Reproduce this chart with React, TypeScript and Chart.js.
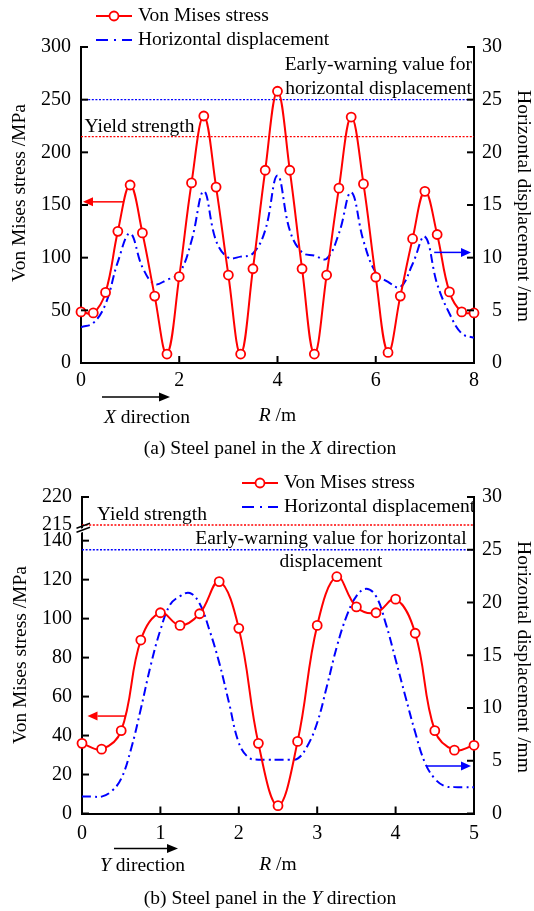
import React, { useEffect, useRef } from "react";
import { Chart, registerables } from "chart.js";

Chart.register(...registerables);

const RED = "#ff0000";
const BLUE = "#0000ff";
const SERIF = '"Liberation Serif", "Times New Roman", serif';
const TEXT_SIZE = 19.5;
const TICK_FONT = { family: SERIF, size: 20 };

// ---------- (a) steel panel in the X direction ----------
const rX = [0, 0.25, 0.5, 0.75, 1, 1.25, 1.5, 1.75, 2, 2.25, 2.5, 2.75, 3, 3.25, 3.5, 3.75, 4,
  4.25, 4.5, 4.75, 5, 5.25, 5.5, 5.75, 6, 6.25, 6.5, 6.75, 7, 7.25, 7.5, 7.75, 8];
const stressX = [48.5, 47.5, 67, 125, 169, 123.5, 63.5, 8.5, 82, 171, 234.5, 167, 83.5, 8.5, 89.5, 183, 258,
  183, 89.5, 8.5, 83.5, 166, 233.5, 170, 81.5, 10, 63.5, 118, 163, 122, 67.5, 48.5, 47.5];
const dispX = [3.4, 3.8, 5.6, 9.6, 12.3, 9.1, 7.5, 7.9, 8.5, 11.6, 16.3, 11.6, 10.0, 10.1, 10.4, 12.6, 17.8,
  12.6, 10.5, 10.2, 9.9, 12.3, 16.2, 11.6, 8.6, 7.7, 7.2, 9.4, 12.0, 7.5, 4.7, 2.8, 2.4];

// ---------- (b) steel panel in the Y direction ----------
const rY = [0, 0.25, 0.5, 0.75, 1, 1.25, 1.5, 1.75, 2, 2.25, 2.5, 2.75, 3, 3.25, 3.5, 3.75, 4, 4.25, 4.5, 4.75, 5];
const stressY = [36, 33, 42.5, 89, 103, 96.5, 102.5, 119, 95, 36, 4, 37, 96.5, 121.5, 106, 103, 110, 92.5, 42.5, 32.5, 35];
const rYd = [0, 0.125, 0.25, 0.375, 0.5, 0.625, 0.75, 0.875, 1, 1.125, 1.25, 1.375, 1.5, 1.625, 1.75, 1.875,
  2, 2.125, 2.25, 2.375, 2.5, 2.625, 2.75, 2.875, 3, 3.125, 3.25, 3.375, 3.5, 3.625, 3.75, 3.875,
  4, 4.125, 4.25, 4.375, 4.5, 4.625, 4.75, 4.875, 5];
const dispY = [1.6, 1.6, 1.6, 2.1, 3.3, 6.1, 9.9, 14.0, 17.4, 19.8, 20.6, 20.9, 19.9, 17.4, 14.3, 10.5,
  6.7, 5.3, 5.1, 5.1, 5.1, 5.1, 5.2, 6.4, 8.6, 12.1, 15.8, 18.7, 20.6, 21.3, 20.6, 18.0,
  14.6, 11.1, 7.7, 4.8, 3.3, 2.6, 2.5, 2.5, 2.5];

// limits
const YIELD_STRENGTH = 215; // MPa
const WARNING_DISP = 25; // mm

// tick values
const ticksStressA = [0, 50, 100, 150, 200, 250, 300];
const ticksDisp = [0, 5, 10, 15, 20, 25, 30];
const ticksRA = [0, 2, 4, 6, 8];
const ticksRB = [0, 1, 2, 3, 4, 5];
const ticksStressBLow = [0, 20, 40, 60, 80, 100, 120, 140];
const ticksStressBHigh = [215, 220];

// pointer arrows (R range, value)
const stressArrowA = { from: 0.87, value: 153 };
const dispArrowA = { from: 7.19, value: 10.5 };
const stressArrowB = { from: 0.55, value: 50 };
const dispArrowB = { from: 4.39, value: 4.5 };

type Run = [string, boolean];

function fontStr(size: number, italic = false) {
  return `${italic ? "italic " : ""}${size}px ${SERIF}`;
}

function drawRuns(ctx: CanvasRenderingContext2D, runs: Run[], x: number, y: number, align: "left" | "center" | "right") {
  ctx.save();
  ctx.textBaseline = "middle";
  ctx.textAlign = "left";
  ctx.fillStyle = "#000";
  const widths = runs.map(([t, it]) => {
    ctx.font = fontStr(TEXT_SIZE, it);
    return ctx.measureText(t).width;
  });
  const total = widths.reduce((a, b) => a + b, 0);
  let cx = align === "left" ? x : align === "center" ? x - total / 2 : x - total;
  runs.forEach(([t, it], i) => {
    ctx.font = fontStr(TEXT_SIZE, it);
    ctx.fillText(t, cx, y);
    cx += widths[i];
  });
  ctx.restore();
}

function rotatedRuns(ctx: CanvasRenderingContext2D, runs: Run[], cx: number, cy: number, rot: number) {
  ctx.save();
  ctx.translate(cx, cy);
  ctx.rotate(rot);
  drawRuns(ctx, runs, 0, 0, "center");
  ctx.restore();
}

function arrow(ctx: CanvasRenderingContext2D, x1: number, y1: number, x2: number, y2: number, color: string, head = 10, half = 4.5) {
  const ang = Math.atan2(y2 - y1, x2 - x1);
  const bx = x2 - head * Math.cos(ang);
  const by = y2 - head * Math.sin(ang);
  ctx.save();
  ctx.strokeStyle = color;
  ctx.fillStyle = color;
  ctx.lineWidth = 1.5;
  ctx.beginPath();
  ctx.moveTo(x1, y1);
  ctx.lineTo(bx, by);
  ctx.stroke();
  ctx.beginPath();
  ctx.moveTo(x2, y2);
  ctx.lineTo(bx - half * Math.sin(ang), by + half * Math.cos(ang));
  ctx.lineTo(bx + half * Math.sin(ang), by - half * Math.cos(ang));
  ctx.closePath();
  ctx.fill();
  ctx.restore();
}

function inwardTicks(ctx: CanvasRenderingContext2D, scales: any[]) {
  ctx.save();
  ctx.strokeStyle = "#000";
  ctx.lineWidth = 2;
  for (const s of scales) {
    for (const t of s.ticks) {
      const p = s.getPixelForValue(t.value);
      ctx.beginPath();
      if (s.isHorizontal()) {
        ctx.moveTo(p, s.top);
        ctx.lineTo(p, s.top - 7);
      } else if (s.position === "left") {
        ctx.moveTo(s.right, p);
        ctx.lineTo(s.right + 7, p);
      } else {
        ctx.moveTo(s.left, p);
        ctx.lineTo(s.left - 7, p);
      }
      ctx.stroke();
    }
  }
  ctx.restore();
}

function legend(ctx: CanvasRenderingContext2D, x0: number, y1: number, y2: number) {
  ctx.save();
  ctx.strokeStyle = RED;
  ctx.lineWidth = 2;
  ctx.beginPath();
  ctx.moveTo(x0, y1);
  ctx.lineTo(x0 + 36, y1);
  ctx.stroke();
  ctx.beginPath();
  ctx.arc(x0 + 18, y1, 4.5, 0, Math.PI * 2);
  ctx.fillStyle = "#fff";
  ctx.fill();
  ctx.lineWidth = 1.8;
  ctx.stroke();
  ctx.strokeStyle = BLUE;
  ctx.lineWidth = 2;
  ctx.setLineDash([12, 6, 2, 6]);
  ctx.beginPath();
  ctx.moveTo(x0, y2);
  ctx.lineTo(x0 + 36, y2);
  ctx.stroke();
  ctx.restore();
  drawRuns(ctx, [["Von Mises stress", false]], x0 + 42, y1, "left");
  drawRuns(ctx, [["Horizontal displacement", false]], x0 + 42, y2, "left");
}

function directionArrow(ctx: CanvasRenderingContext2D, x1: number, x2: number, y: number) {
  arrow(ctx, x1, y, x2, y, "#000", 11, 4.5);
}

const pts = (xs: number[], ys: number[]) => xs.map((x, i) => ({ x, y: ys[i] }));

function stressDataset(xs: number[], ys: number[], yAxisID: string) {
  return {
    label: "Von Mises stress",
    data: pts(xs, ys),
    yAxisID,
    clip: false,
    borderColor: RED,
    borderWidth: 2,
    tension: 0.4,
    pointRadius: 4.5,
    pointBorderWidth: 1.8,
    pointBackgroundColor: "#fff",
    pointBorderColor: RED,
  };
}

function dispDataset(xs: number[], ys: number[]) {
  return {
    label: "Horizontal displacement",
    data: pts(xs, ys),
    yAxisID: "y2",
    borderColor: BLUE,
    borderWidth: 2,
    borderDash: [9, 4, 2, 4],
    tension: 0.4,
    pointRadius: 0,
  };
}

function limitDataset(label: string, x0: number, x1: number, v: number, yAxisID: string, color: string) {
  return {
    label,
    data: [{ x: x0, y: v }, { x: x1, y: v }],
    yAxisID,
    borderColor: color,
    borderWidth: 1.3,
    borderDash: [2, 1.6],
    pointRadius: 0,
    tension: 0,
  };
}

const fixedTicks = (vals: number[]) => (s: any) => {
  s.ticks = vals.map((value) => ({ value }));
};

function xScale(max: number, vals: number[], height: number, pad: number) {
  return {
    type: "linear",
    position: "bottom",
    min: 0,
    max,
    afterBuildTicks: fixedTicks(vals),
    afterFit: (s: any) => { s.height = height; },
    grid: { display: false, drawTicks: false },
    border: { display: true, color: "#000", width: 2 },
    ticks: { font: TICK_FONT, color: "#000", padding: pad, maxRotation: 0, autoSkip: false },
  };
}

function leftScale(min: number, max: number, vals: number[], width: number, extra: any = {}) {
  return {
    type: "linear",
    position: "left",
    min,
    max,
    afterBuildTicks: fixedTicks(vals),
    afterFit: (s: any) => { s.width = width; },
    grid: { display: false, drawTicks: false },
    border: { display: true, color: "#000", width: 2 },
    ticks: { font: TICK_FONT, color: "#000", padding: 10, autoSkip: false, includeBounds: false },
    ...extra,
  };
}

function rightScale() {
  return {
    type: "linear",
    position: "right",
    min: 0,
    max: 30,
    afterBuildTicks: fixedTicks(ticksDisp),
    afterFit: (s: any) => { s.width = 28; },
    grid: { display: false, drawTicks: false },
    border: { display: true, color: "#000", width: 2 },
    ticks: { font: TICK_FONT, color: "#000", padding: 9, crossAlign: "far", autoSkip: false },
  };
}

const decorA = {
  id: "decorA",
  afterDraw(chart: any) {
    const { ctx } = chart;
    const { x, y, y2 } = chart.scales;
    inwardTicks(ctx, [x, y, y2]);
    legend(ctx, 96, 16, 40);
    rotatedRuns(ctx, [["Von Mises stress /MPa", false]], 20, 193, -Math.PI / 2);
    rotatedRuns(ctx, [["Horizontal displacement /mm", false]], 523, 206, Math.PI / 2);
    drawRuns(ctx, [["Yield strength", false]], 84.5, 126.5, "left");
    drawRuns(ctx, [["Early-warning value for", false]], 472, 65, "right");
    drawRuns(ctx, [["horizontal displacement", false]], 472, 89, "right");
    const ya = y.getPixelForValue(stressArrowA.value);
    arrow(ctx, x.getPixelForValue(stressArrowA.from), ya, x.left + 2, ya, RED);
    const yb = y2.getPixelForValue(dispArrowA.value);
    arrow(ctx, x.getPixelForValue(dispArrowA.from), yb, x.right - 3, yb, BLUE);
    directionArrow(ctx, 102, 170, 397);
    drawRuns(ctx, [["X", true], [" direction", false]], 104, 418, "left");
    drawRuns(ctx, [["R", true], [" /m", false]], (x.left + x.right) / 2, 416, "center");
    drawRuns(ctx, [["(a) Steel panel in the ", false], ["X", true], [" direction", false]], 270, 449, "center");
  },
};

const decorB = {
  id: "decorB",
  afterDraw(chart: any) {
    const { ctx } = chart;
    const { x, yLow, yHigh, y2 } = chart.scales;
    inwardTicks(ctx, [x, yLow, y2]);
    // top tick of the upper (broken) segment
    ctx.save();
    ctx.strokeStyle = "#000";
    ctx.lineWidth = 2;
    const p220 = yHigh.getPixelForValue(220);
    ctx.beginPath();
    ctx.moveTo(yHigh.right, p220);
    ctx.lineTo(yHigh.right + 7, p220);
    ctx.stroke();
    ctx.restore();
    // axis break marks
    const bx = yLow.right;
    const by = yLow.top;
    ctx.save();
    ctx.fillStyle = "#fff";
    ctx.beginPath();
    ctx.moveTo(bx - 3, by + 1.5);
    ctx.lineTo(bx + 3, by - 0.8);
    ctx.lineTo(bx + 3, by + 3.2);
    ctx.lineTo(bx - 3, by + 5.5);
    ctx.closePath();
    ctx.fill();
    ctx.strokeStyle = "#000";
    ctx.lineWidth = 1.5;
    ctx.beginPath();
    ctx.moveTo(bx - 5.5, by + 0.3);
    ctx.lineTo(bx + 8, by - 4.7);
    ctx.moveTo(bx - 5.5, by + 4.3);
    ctx.lineTo(bx + 8, by - 0.7);
    ctx.stroke();
    ctx.restore();
    legend(ctx, 242, 23, 47);
    rotatedRuns(ctx, [["Von Mises stress /MPa", false]], 21, 195, -Math.PI / 2);
    rotatedRuns(ctx, [["Horizontal displacement /mm", false]], 523, 197, Math.PI / 2);
    drawRuns(ctx, [["Yield strength", false]], 97, 54.5, "left");
    drawRuns(ctx, [["Early-warning value for horizontal", false]], 331, 79, "center");
    drawRuns(ctx, [["displacement", false]], 331, 102, "center");
    const ya = yLow.getPixelForValue(stressArrowB.value);
    arrow(ctx, x.getPixelForValue(stressArrowB.from), ya, x.left + 5.5, ya, RED);
    const yb = y2.getPixelForValue(dispArrowB.value);
    arrow(ctx, x.getPixelForValue(dispArrowB.from), yb, x.right - 3, yb, BLUE);
    directionArrow(ctx, 114, 178, 388.5);
    drawRuns(ctx, [["Y", true], [" direction", false]], 100, 405.5, "left");
    drawRuns(ctx, [["R", true], [" /m", false]], (x.left + x.right) / 2, 405, "center");
    drawRuns(ctx, [["(b) Steel panel in the ", false], ["Y", true], [" direction", false]], 270, 439, "center");
  },
};

function configA(): any {
  return {
    type: "line",
    data: {
      datasets: [
        stressDataset(rX, stressX, "y"),
        dispDataset(rX, dispX),
        limitDataset("Yield strength", 0, 8, YIELD_STRENGTH, "y", RED),
        limitDataset("Early-warning value", 0, 8, WARNING_DISP, "y2", BLUE),
      ],
    },
    options: {
      responsive: false,
      animation: false,
      devicePixelRatio: 1,
      layout: { padding: { top: 47, right: 32, left: 0, bottom: 0 } },
      plugins: { legend: { display: false }, tooltip: { enabled: false } },
      scales: {
        x: xScale(8, ticksRA, 97, 5.5),
        y: leftScale(0, 300, ticksStressA, 81),
        y2: rightScale(),
      },
    },
    plugins: [decorA],
  };
}

function configB(): any {
  return {
    type: "line",
    data: {
      datasets: [
        stressDataset(rY, stressY, "yLow"),
        dispDataset(rYd, dispY),
        limitDataset("Yield strength", 0, 5, YIELD_STRENGTH, "yHigh", RED),
        limitDataset("Early-warning value", 0, 5, WARNING_DISP, "y2", BLUE),
      ],
    },
    options: {
      responsive: false,
      animation: false,
      devicePixelRatio: 1,
      layout: { padding: { top: 37, right: 32, left: 0, bottom: 0 } },
      plugins: { legend: { display: false }, tooltip: { enabled: false } },
      scales: {
        x: xScale(5, ticksRB, 97.5, 8.5),
        yLow: leftScale(0, 146.5, ticksStressBLow, 82, { stack: "left", stackWeight: 285.5 }),
        yHigh: leftScale(214.46, 220, ticksStressBHigh, 82, { stack: "left", stackWeight: 31 }),
        y2: rightScale(),
      },
    },
    plugins: [decorB],
  };
}

export default function App() {
  const refA = useRef<HTMLCanvasElement>(null);
  const refB = useRef<HTMLCanvasElement>(null);
  useEffect(() => {
    const a = new Chart(refA.current as HTMLCanvasElement, configA());
    const b = new Chart(refB.current as HTMLCanvasElement, configB());
    return () => {
      a.destroy();
      b.destroy();
    };
  }, []);
  return (
    <div style={{ position: "absolute", left: 0, top: 0, width: 534, height: 911, background: "#fff" }}>
      <canvas ref={refA} width={534} height={460} style={{ display: "block" }} />
      <canvas ref={refB} width={534} height={451} style={{ display: "block" }} />
    </div>
  );
}
